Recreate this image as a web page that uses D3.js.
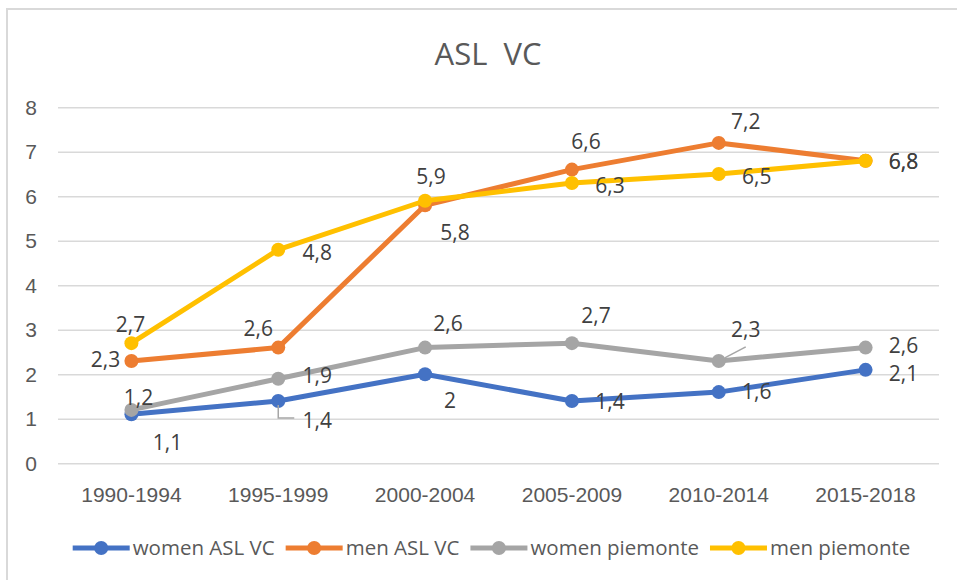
<!DOCTYPE html>
<html>
<head>
<meta charset="utf-8">
<script src="https://cdn.jsdelivr.net/npm/d3@7"></script>
<style>
  html, body { margin: 0; padding: 0; background: #fff; }
  svg { display: block; font-family: "Open Sans", "Liberation Sans", sans-serif; }
  .grid line { stroke: #d9d9d9; stroke-width: 1.5; }
  .grid path, .axis path { display: none; }
  .axis text { fill: #595959; font-size: 21px; }
  .data-label { fill: #404040; font-size: 21px; }
  .legend-text { fill: #595959; font-size: 20.5px; }
  .title { white-space: pre; }
</style>
</head>
<body>
<div id="chart"></div>
<script>
const categories = ["1990-1994", "1995-1999", "2000-2004", "2005-2009", "2010-2014", "2015-2018"];
const womenAslVc = [1.1, 1.4, 2, 1.4, 1.6, 2.1];
const menAslVc = [2.3, 2.6, 5.8, 6.6, 7.2, 6.8];
const womenPiemonte = [1.2, 1.9, 2.6, 2.7, 2.3, 2.6];
const menPiemonte = [2.7, 4.8, 5.9, 6.3, 6.5, 6.8];
const seriesNames = ["women ASL VC", "men ASL VC", "women piemonte", "men piemonte"];
const yTicks = [0, 1, 2, 3, 4, 5, 6, 7, 8];
const titleText = "ASL  VC";

const colors = ["#4472c4", "#ed7d31", "#a5a5a5", "#ffc000"];

// where Excel left each data label, as a nudge from its point
const labelNudge = [
  [[36, 28], [39, 20], [25, 26], [38, 1], [38, 0], [38, 4]],
  [[-26, -1], [-20, -19], [30, 27], [14, -28], [27, -21], [38, 1]],
  [[7, -12], [39, -3], [23, -24], [24, -28], [27, -31], [38, -2]],
  [[-1, -19], [39, 3], [6, -24], [38, 3], [38, 3], [38, 1]]
];

const series = [womenAslVc, menAslVc, womenPiemonte, menPiemonte].map((values, i) => ({
  name: seriesNames[i],
  color: colors[i],
  values: values.map((v, j) => ({ cat: categories[j], value: v, nudge: labelNudge[i][j] }))
}));

const width = 957, height = 580;
const margin = { top: 107.3, right: 18, bottom: 116.7, left: 58 };
const fmt = d3.formatLocale({ decimal: ",", thousands: ".", grouping: [3], currency: ["", "€"] }).format("~g");

const svg = d3.select("#chart").append("svg").attr("width", width).attr("height", height);

// chart area border (only top and left edges fall inside the picture)
svg.append("rect")
  .attr("x", 7).attr("y", 9).attr("width", 1200).attr("height", 1200)
  .attr("fill", "none").attr("stroke", "#d9d9d9").attr("stroke-width", 2);

const x = d3.scaleBand().domain(categories).range([margin.left, width - margin.right]).padding(0);
const y = d3.scaleLinear().domain([0, 8]).range([height - margin.bottom, margin.top]);
const cx = (c) => x(c) + x.bandwidth() / 2;

svg.append("text")
  .attr("class", "title")
  .attr("x", 488).attr("y", 65)
  .attr("text-anchor", "middle")
  .attr("fill", "#595959")
  .style("font-size", "31px")
  .text(titleText);

svg.append("g")
  .attr("class", "grid")
  .attr("transform", `translate(${margin.left},0)`)
  .call(d3.axisLeft(y).tickValues(yTicks).tickSize(-(width - margin.right - margin.left)).tickFormat(""));

svg.append("g")
  .attr("class", "axis")
  .attr("transform", `translate(${margin.left},0)`)
  .call(d3.axisLeft(y).tickValues(yTicks).tickSize(0).tickPadding(21).tickFormat(fmt));

svg.append("g")
  .attr("class", "axis")
  .attr("transform", `translate(0,${y(0)})`)
  .call(d3.axisBottom(x).tickSize(0).tickPadding(24));

const line = d3.line().x((d) => cx(d.cat)).y((d) => y(d.value));

const seriesG = svg.append("g").selectAll("g").data(series).join("g");

seriesG.append("path")
  .attr("d", (s) => line(s.values))
  .attr("fill", "none")
  .attr("stroke", (s) => s.color)
  .attr("stroke-width", 5)
  .attr("stroke-linejoin", "round");

seriesG.selectAll("circle")
  .data((s) => s.values.map((v) => ({ ...v, color: s.color })))
  .join("circle")
  .attr("cx", (d) => cx(d.cat))
  .attr("cy", (d) => y(d.value))
  .attr("r", 7)
  .attr("fill", (d) => d.color);

// leader lines for labels that were dragged away from their point
const leaderG = svg.append("g").attr("fill", "none").attr("stroke", "#a6a6a6").attr("stroke-width", 1.5);
{
  const p = series[0].values[1];
  const px = cx(p.cat), py = y(p.value);
  leaderG.append("path").attr("d", `M${px},${py + 4}V${py + 17}H${px + 16}`);
  const q = series[2].values[4];
  const qx = cx(q.cat), qy = y(q.value);
  leaderG.append("path").attr("d", `M${qx + 6},${qy - 3}L${qx + 27},${qy - 14}`);
}

const labelG = svg.append("g");
series.forEach((s) => {
  labelG.selectAll(null)
    .data(s.values)
    .join("text")
    .attr("class", "data-label")
    .attr("x", (d) => cx(d.cat) + d.nudge[0])
    .attr("y", (d) => y(d.value) + d.nudge[1])
    .attr("dy", "0.35em")
    .attr("text-anchor", "middle")
    .text((d) => fmt(d.value));
});

// legend
const legend = svg.append("g");
let lx = 0;
series.forEach((s) => {
  const item = legend.append("g").attr("transform", `translate(${lx},0)`);
  item.append("line").attr("x1", 0).attr("x2", 57).attr("stroke", s.color).attr("stroke-width", 5);
  item.append("circle").attr("cx", 28.5).attr("r", 7).attr("fill", s.color);
  const t = item.append("text").attr("class", "legend-text").attr("x", 60).attr("dy", "0.35em").text(s.name);
  lx += 60 + t.node().getComputedTextLength() + 11;
});
lx -= 11;
legend.attr("transform", `translate(${491.5 - lx / 2},548)`);
</script>
</body>
</html>
